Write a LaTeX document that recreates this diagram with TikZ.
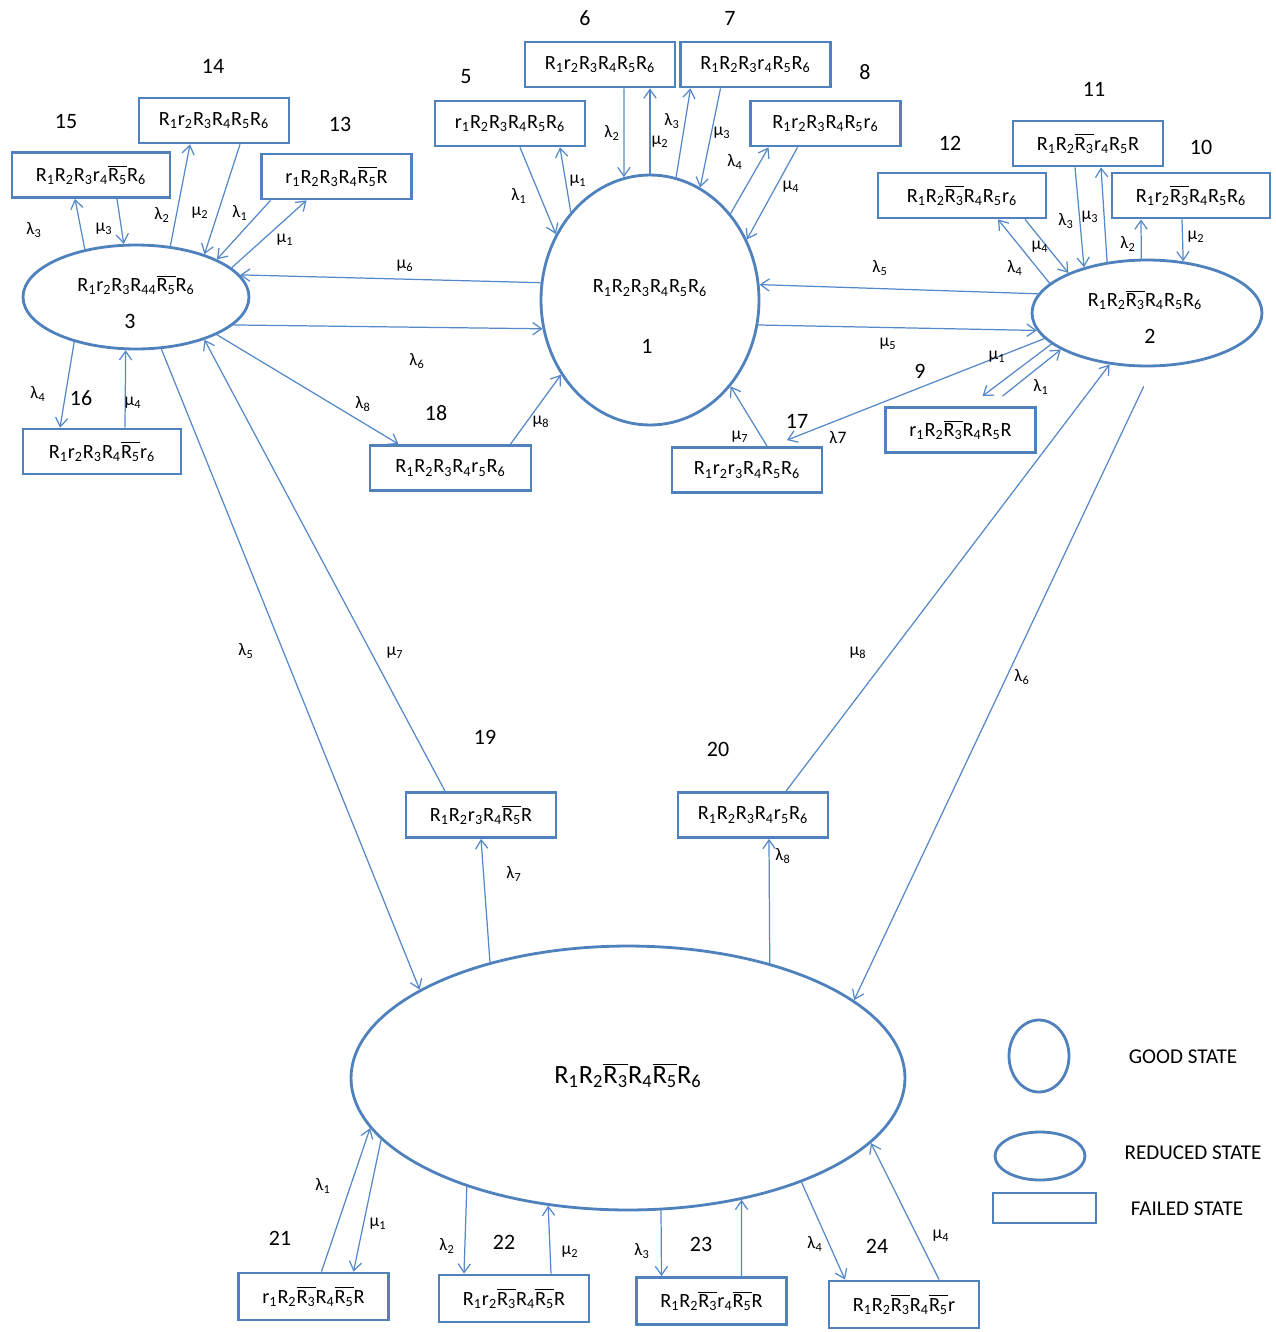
\documentclass[tikz,border=0pt]{standalone}
\usepackage{fontspec}
\setmainfont{Carlito}
\usetikzlibrary{positioning,calc,arrows.meta,shapes.geometric}
\definecolor{stateblue}{RGB}{79,129,189}
\definecolor{linkblue}{RGB}{84,136,200}
\newcommand{\Rn}[1]{R\textsubscript{#1}}
\newcommand{\rn}[1]{r\textsubscript{#1}}
\newcommand{\Rbar}[1]{$\overline{\mbox{R\textsubscript{#1}}}$}
\newcommand{\rlam}[1]{λ\textsubscript{#1}}
\newcommand{\rmu}[1]{μ\textsubscript{#1}}

\tikzset{
  failed/.style={draw=stateblue, line width=1.6pt, rectangle, minimum width=3cm,
    minimum height=0.9cm, inner sep=1pt, font=\fontsize{11.5}{13}\selectfont},
  goodst/.style={draw=stateblue, line width=1.6pt, ellipse, inner sep=0pt},
  statetxt/.style={font=\fontsize{11.5}{13}\selectfont, inner sep=0pt},
  link/.style={draw=linkblue, line width=0.7pt, -{Straight Barb[length=5pt,width=7pt]}},
  rate/.style={font=\fontsize{10}{12}\selectfont, inner sep=0pt},
  stateno/.style={font=\fontsize{12.5}{14}\selectfont, inner sep=0pt},
  legendtxt/.style={font=\fontsize{12}{14}\selectfont, inner sep=0pt}
}

\begin{document}
\begin{tikzpicture}[x=0.02cm, y=-0.02cm]
\useasboundingbox (0,0) rectangle (1275,1332);

% reduced and good states
\node[goodst, minimum width=4.36cm, minimum height=5cm] (s1) at (650,300) {};
\node[statetxt] (s1t) at (650,288) {\Rn1\Rn2\Rn3\Rn4\Rn5\Rn6};
\node[stateno] (s1n) at (647,346) {1};
\node[goodst, minimum width=4.6cm, minimum height=2.12cm] (s2) at (1147,313) {};
\node[statetxt] (s2t) at (1145,300) {\Rn1\Rn2\Rbar3\Rn4\Rn5\Rn6};
\node[stateno] (s2n) at (1150,336) {2};
\node[goodst, minimum width=4.52cm, minimum height=2.08cm] (s3) at (136,297) {};
\node[statetxt] (s3t) at (136,285) {\Rn1\rn2\Rn3\Rn{44}\Rbar5\Rn6};
\node[stateno] (s3n) at (130,321) {3};
\node[goodst, minimum width=11.08cm, minimum height=5.28cm] (s0) at (628,1078) {};
\node[font=\fontsize{15}{17}\selectfont] (s0t) at (628,1075) {\Rn1\Rn2\Rbar3\Rn4\Rbar5\Rn6};

% failed states
\node[failed] (b5) at (510,123.5) {\rn1\Rn2\Rn3\Rn4\Rn5\Rn6};
\node[failed] (b6) at (600,64.5) {\Rn1\rn2\Rn3\Rn4\Rn5\Rn6};
\node[failed] (b7) at (755.5,64.5) {\Rn1\Rn2\Rn3\rn4\Rn5\Rn6};
\node[failed] (b8) at (825.5,123.5) {\Rn1\rn2\Rn3\Rn4\Rn5\rn6};
\node[failed] (b9) at (960.5,430) {\rn1\Rn2\Rbar3\Rn4\Rn5R};
\node[failed, minimum width=3.16cm] (b10) at (1191,195.5) {\Rn1\rn2\Rbar3\Rn4\Rn5\Rn6};
\node[failed] (b11) at (1088,143.5) {\Rn1\Rn2\Rbar3\rn4\Rn5R};
\node[failed, minimum width=3.36cm] (b12) at (962,195.5) {\Rn1\Rn2\Rbar3\Rn4\Rn5\rn6};
\node[failed] (b13) at (336.5,176.5) {\rn1\Rn2\Rn3\Rn4\Rbar5R};
\node[failed] (b14) at (214,120.5) {\Rn1\rn2\Rn3\Rn4\Rn5\Rn6};
\node[failed, minimum width=3.16cm] (b15) at (91,175) {\Rn1\Rn2\Rn3\rn4\Rbar5\Rn6};
\node[failed, minimum width=3.16cm] (b16) at (102,451.5) {\Rn1\rn2\Rn3\Rn4\Rbar5\rn6};
\node[failed] (b17) at (747,470) {\Rn1\rn2\rn3\Rn4\Rn5\Rn6};
\node[failed, minimum width=3.22cm] (b18) at (450.5,468) {\Rn1\Rn2\Rn3\Rn4\rn5\Rn6};
\node[failed] (b19) at (481,815) {\Rn1\Rn2\rn3\Rn4\Rbar5R};
\node[failed] (b20) at (753,815) {\Rn1\Rn2\Rn3\Rn4\rn5\Rn6};
\node[failed, minimum height=0.94cm] (b21) at (313.5,1296.5) {\rn1\Rn2\Rbar3\Rn4\Rbar5R};
\node[failed, minimum height=0.94cm] (b22) at (514,1298.5) {\Rn1\rn2\Rbar3\Rn4\Rbar5R};
\node[failed, minimum height=0.94cm] (b23) at (711.5,1301) {\Rn1\Rn2\Rbar3\rn4\Rbar5R};
\node[failed, minimum height=0.94cm] (b24) at (904,1304.5) {\Rn1\Rn2\Rbar3\Rn4\Rbar5r};

% state numbers
\node[stateno] (n5) at (466,77) {5};
\node[stateno] (n6) at (585,18) {6};
\node[stateno] (n7) at (730,18) {7};
\node[stateno] (n8) at (865,72) {8};
\node[stateno] (n9) at (920,371) {9};
\node[stateno] (n10) at (1201,147) {10};
\node[stateno] (n11) at (1094,89) {11};
\node[stateno] (n12) at (950,143) {12};
\node[stateno] (n13) at (340,124) {13};
\node[stateno] (n14) at (213,66) {14};
\node[stateno] (n15) at (66,122) {15};
\node[stateno] (n16) at (81,398) {16};
\node[stateno] (n17) at (797,421) {17};
\node[stateno] (n18) at (436,413) {18};
\node[stateno] (n19) at (485,737) {19};
\node[stateno] (n20) at (718,749) {20};
\node[stateno] (n21) at (280,1238) {21};
\node[stateno] (n22) at (504,1242) {22};
\node[stateno] (n23) at (701,1244) {23};
\node[stateno] (n24) at (877,1246) {24};

% transitions of state 1
\draw[link] ($(b5.south)+(10,0)$) -- (s1.145);
\draw[link] (s1.132) -- ($(b5.south)+(50,0)$);
\draw[link] ($(b6.south)+(24,0)$) -- (s1.102);
\draw[link] (s1.90) -- ($(b6.south)+(50,0)$);
\draw[link] (s1.78) -- ($(b7.south)+(-65,0)$);
\draw[link] ($(b7.south)+(-35,0)$) -- (s1.66);
\draw[link] (s1.47) -- ($(b8.south)+(-57,0)$);
\draw[link] ($(b8.south)+(-28,0)$) -- (s1.32);
\draw[link] (s1.171) -- (s3.12);
\draw[link] (s3.344) -- (s1.195);
\draw[link] (s2.170) -- (s1.8);
\draw[link] (s1.347) -- (s2.189);
\draw[link] ($(b18.north)+(60,0)$) -- (s1.220);
\draw[link] ($(b17.north)+(20,0)$) -- (s1.313);
\draw[link] (s2.194) -- ($(b17.north)+(40,-6)$);

% transitions of state 3
\draw[link] (s3.137) -- ($(b15.south)+(-16,0)$);
\draw[link] ($(b15.south)+(26,0)$) -- (s3.103);
\draw[link] (s3.56) -- ($(b14.south)+(-24,0)$);
\draw[link] ($(b14.south)+(26,0)$) -- (s3.32);
\draw[link] ($(b13.south)+(-66,0)$) -- (s3.25);
\draw[link] (s3.17) -- ($(b13.south)+(-30,0)$);
\draw[link] (s3.216) -- ($(b16.north)+(-42,0)$);
\draw[link] ($(b16.north)+(23,0)$) -- (s3.259);
\draw[link] (s3.335) -- ($(b18.north)+(-52,0)$);
\draw[link] (s3.296) -- (s0.157);
\draw[link] ($(b19.north)+(-36,0)$) -- (s3.328);

% transitions of state 2
\draw[link] (s2.163) -- ($(b12.south)+(36,0)$);
\draw[link] ($(b12.south)+(63,0)$) -- (s2.153);
\draw[link] ($(b11.south)+(-13,0)$) -- (s2.144);
\draw[link] (s2.128) -- ($(b11.south)+(13,0)$);
\draw[link] (s2.96) -- ($(b10.south)+(-50,0)$);
\draw[link] ($(b10.south)+(-9,0)$) -- (s2.55);
\draw[link] (s2.198) -- ($(b9.north)+(22,-10)$);
\draw[link] ($(b9.north)+(42,-10)$) -- (s2.203);
\draw[link] ($(b20.north)+(33,0)$) -- (s2.234);
\draw[link, shorten <=12pt] (s2.276) -- (s0.19.5);

% transitions of the reduced state
\draw[link] (s0.140) -- (b19.south);
\draw[link] (s0.39.4) -- ($(b20.south)+(16,0)$);
\draw[link] ($(b21.north)+(8,0)$) -- (s0.191);
\draw[link] (s0.194.6) -- ($(b21.north)+(40,0)$);
\draw[link] (s0.214.8) -- ($(b22.north)+(-50,0)$);
\draw[link] ($(b22.north)+(37,0)$) -- (s0.238);
\draw[link] (s0.284) -- ($(b23.north)+(-50,0)$);
\draw[link] ($(b23.north)+(30,0)$) -- (s0.313);
\draw[link] (s0.329.5) -- ($(b24.north)+(-59,0)$);
\draw[link] ($(b24.north)+(35,0)$) -- (s0.345);

% rates
\node[rate] (r5l) at (519,196) {\rlam1};
\node[rate] (r5m) at (578,181) {\rmu1};
\node[rate] (r6l) at (612,133) {\rlam2};
\node[rate] (r6m) at (660,142) {\rmu2};
\node[rate] (r7l) at (672,121) {\rlam3};
\node[rate] (r7m) at (722,133) {\rmu3};
\node[rate] (r8l) at (735,162) {\rlam4};
\node[rate] (r8m) at (791,187) {\rmu4};
\node[rate] (r3m) at (405,266) {\rmu6};
\node[rate] (r3l) at (417,361) {\rlam6};
\node[rate] (r2l) at (880,268) {\rlam5};
\node[rate] (r2m) at (888,344) {\rmu5};
\node[rate] (r18m) at (541,422) {\rmu8};
\node[rate] (r17m) at (740,437) {\rmu7};
\node[rate] (r17l) at (838,438) {λ7};
\node[rate] (r15l) at (34,230) {\rlam3};
\node[rate] (r15m) at (104,229) {\rmu3};
\node[rate] (r14l) at (162,215) {\rlam2};
\node[rate] (r14m) at (200,213) {\rmu2};
\node[rate] (r13l) at (240,213) {\rlam1};
\node[rate] (r13m) at (285,240) {\rmu1};
\node[rate] (r16l) at (38,394) {\rlam4};
\node[rate] (r16m) at (133,403) {\rmu4};
\node[rate] (r18l) at (363,404) {\rlam8};
\node[rate] (r0l5) at (246,651) {\rlam5};
\node[rate] (r19m) at (395,653) {\rmu7};
\node[rate] (r12l) at (1015,268) {\rlam4};
\node[rate] (r12m) at (1040,247) {\rmu4};
\node[rate] (r11l) at (1066,221) {\rlam3};
\node[rate] (r11m) at (1090,217) {\rmu3};
\node[rate] (r10l) at (1128,244) {\rlam2};
\node[rate] (r10m) at (1196,237) {\rmu2};
\node[rate] (r9m) at (997,357) {\rmu1};
\node[rate] (r9l) at (1041,387) {\rlam1};
\node[rate] (r20m) at (858,653) {\rmu8};
\node[rate] (r0l6) at (1022,677) {\rlam6};
\node[rate] (r19l) at (514,874) {\rlam7};
\node[rate] (r20l) at (783,856) {\rlam8};
\node[rate] (r21l) at (323,1186) {\rlam1};
\node[rate] (r21m) at (378,1224) {\rmu1};
\node[rate] (r22l) at (447,1246) {\rlam2};
\node[rate] (r22m) at (570,1252) {\rmu2};
\node[rate] (r23l) at (642,1251) {\rlam3};
\node[rate] (r24l) at (815,1244) {\rlam4};
\node[rate] (r24m) at (941,1236) {\rmu4};

% legend
\node[goodst, minimum width=1.2cm, minimum height=1.44cm] (lg1) at (1039,1056) {};
\node[goodst, minimum width=1.8cm, minimum height=0.96cm] (lg2) at (1040,1156) {};
\node[draw=stateblue, line width=1.6pt, minimum width=2.06cm, minimum height=0.6cm] (lg3) at (1044.5,1208) {};
\node[legendtxt] (lt1) at (1183,1057) {GOOD STATE};
\node[legendtxt] (lt2) at (1193,1153) {REDUCED STATE};
\node[legendtxt] (lt3) at (1187,1209) {FAILED STATE};
\end{tikzpicture}
\end{document}
